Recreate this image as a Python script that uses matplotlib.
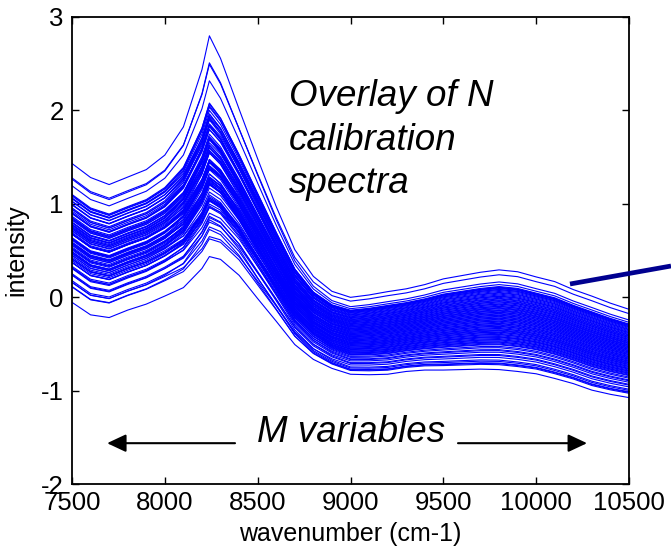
import numpy as np
import matplotlib
matplotlib.use("Agg")
from matplotlib import pyplot as plt
from matplotlib.lines import Line2D

plt.rcParams['font.family'] = ['Liberation Sans', 'DejaVu Sans']
plt.rcParams['axes.unicode_minus'] = False

# wavenumber grid (cm-1)
wavenumber = [7500, 7600, 7700, 7800, 7900, 8000, 8100, 8200, 8240, 8300,
              8400, 8500, 8600, 8700, 8800, 8900, 9000, 9100, 9200, 9300,
              9400, 9500, 9600, 9700, 9800, 9900, 10000, 10100, 10200, 10300,
              10400, 10500]

# mean spectrum of the set
mean_spec = [0.62, 0.48, 0.43, 0.51, 0.58, 0.69, 0.85, 1.17, 1.37, 1.27,
             0.98, 0.64, 0.30, -0.03, -0.24, -0.36, -0.42, -0.41, -0.39, -0.36,
             -0.33, -0.30, -0.28, -0.26, -0.25, -0.27, -0.31, -0.36, -0.43, -0.50,
             -0.56, -0.61]

# spread of the band (overall level)
load_level = [0.33, 0.33, 0.32, 0.32, 0.32, 0.33, 0.37, 0.43, 0.47, 0.43,
              0.37, 0.33, 0.29, 0.27, 0.26, 0.26, 0.27, 0.28, 0.29, 0.29,
              0.30, 0.32, 0.33, 0.34, 0.35, 0.35, 0.34, 0.34, 0.33, 0.33,
              0.32, 0.31]

# extra baseline on the low wavenumber side
load_left = [0.30, 0.29, 0.28, 0.28, 0.29, 0.30, 0.30, 0.30, 0.30, 0.30,
             0.28, 0.25, 0.20, 0.12, 0.06, 0.02, 0.0, 0.0, 0.0, 0.0,
             0.0, 0.0, 0.0, 0.0, 0.0, 0.0, 0.0, 0.0, 0.0, 0.0,
             0.0, 0.0]

# extra height of the 8240 band
load_peak = [0.0, 0.0, 0.0, 0.0, 0.0, 0.05, 0.25, 0.75, 1.0, 0.80,
             0.45, 0.20, 0.05, 0.0, 0.0, 0.0, 0.0, 0.0, 0.0, 0.0,
             0.0, 0.0, 0.0, 0.0, 0.0, 0.0, 0.0, 0.0, 0.0, 0.0,
             0.0, 0.0]

# scores of the N calibration spectra (last ten are the outliers)
score_level = [-1.32, -1.25, -1.21, -1.13, -1.07, -1.04, -0.97, -0.92, -0.89, -0.83,
               -0.79, -0.74, -0.72, -0.69, -0.66, -0.65, -0.62, -0.59, -0.58, -0.55,
               -0.52, -0.50, -0.49, -0.46, -0.43, -0.42, -0.39, -0.36, -0.35, -0.32,
               -0.30, -0.28, -0.25, -0.24, -0.21, -0.18, -0.17, -0.14, -0.12, -0.09,
               -0.08, -0.05, -0.02, -0.01, 0.02, 0.04, 0.07, 0.08, 0.11, 0.13,
               0.16, 0.17, 0.20, 0.22, 0.25, 0.26, 0.29, 0.31, 0.33, 0.36,
               0.38, 0.40, 0.43, 0.44, 0.47, 0.50, 0.51, 0.54, 0.57, 0.58,
               0.61, 0.63, 0.66, 0.68, 0.71, 0.74, 0.75, 0.78, 0.81, 0.84,
               0.86, 0.89, 0.92, 0.95, 0.98, 1.01, 1.04,
               1.55, 1.40, 1.18, 1.10, 1.00, 1.02, 0.95, -1.50, -1.35, -1.30]
score_left = [-0.25, -0.10, 0.05, -0.30, -0.05, 0.10, -0.20, 0.00, 0.15, -0.10,
              0.05, -0.15, 0.10, 0.00, -0.10, 0.15, 0.05, -0.05, 0.20, -0.10,
              0.00, 0.10, -0.15, 0.05, 0.15, -0.05, 0.10, -0.10, 0.05, 0.20,
              -0.05, 0.10, 0.00, 0.15, -0.10, 0.05, 0.20, -0.05, 0.10, 0.00,
              0.15, -0.10, 0.05, 0.20, 0.00, -0.05, 0.10, 0.15, -0.10, 0.05,
              0.20, 0.00, 0.10, -0.05, 0.15, 0.25, 0.05, -0.05, 0.10, 0.20,
              0.00, 0.15, 0.05, 0.25, 0.10, -0.05, 0.20, 0.10, 0.30, 0.05,
              0.15, 0.25, 0.05, 0.20, 0.30, 0.10, 0.25, 0.15, 0.35, 0.20,
              0.30, 0.25, 0.35, 0.30, 0.40, 0.35, 0.40,
              1.00, 0.65, 0.85, 0.70, 0.50, 0.45, 0.40, -0.60, -0.20, -0.10]
score_peak = [-0.05, 0.00, 0.05, -0.10, 0.00, 0.05, -0.05, 0.10, 0.00, -0.05,
              0.05, 0.00, -0.10, 0.05, 0.00, 0.10, -0.05, 0.00, 0.05, -0.05,
              0.00, 0.10, -0.05, 0.00, 0.05, -0.10, 0.00, 0.05, 0.10, -0.05,
              0.00, 0.05, -0.05, 0.10, 0.00, -0.05, 0.05, 0.00, 0.10, -0.05,
              0.00, 0.05, -0.10, 0.05, 0.00, 0.10, -0.05, 0.00, 0.05, 0.10,
              -0.05, 0.00, 0.05, -0.05, 0.10, 0.00, 0.05, -0.05, 0.00, 0.10,
              0.05, 0.00, 0.10, 0.05, 0.00, 0.10, 0.05, 0.00, 0.10, 0.05,
              0.00, 0.10, 0.05, 0.10, 0.00, 0.05, 0.10, 0.05, 0.00, 0.10,
              0.05, 0.10, 0.00, 0.05, 0.10, 0.05, 0.10,
              0.40, 0.27, 0.33, 0.22, 0.08, 0.05, 0.00, -0.05, 0.05, 0.10]

x = np.array(wavenumber)
m = np.array(mean_spec)
p1 = np.array(load_level)
p2 = np.array(load_left)
p3 = np.array(load_peak)

fig = plt.figure(figsize=(6.71, 5.48), dpi=100)
ax = fig.add_axes([72/671, 64/548, 557/671, 467/548])

for t1, t2, t3 in zip(score_level, score_left, score_peak):
    ax.plot(x, m + t1*p1 + t2*p2 + t3*p3, color=(0, 0, 1), lw=0.8)

ax.set_xlim(7500, 10500)
ax.set_ylim(-2, 3)
ax.set_xticks([7500, 8000, 8500, 9000, 9500, 10000, 10500])
ax.set_yticks([-2, -1, 0, 1, 2, 3])
ax.tick_params(direction='in', top=True, right=True, length=4.8, width=1.0,
               labelsize=18.5, pad=5)
ax.tick_params(axis='y', pad=6)
for s in ax.spines.values():
    s.set_linewidth(1.3)
ax.set_xlabel('wavenumber (cm-1)', fontsize=18, labelpad=5)
ax.set_ylabel('intensity', fontsize=18, labelpad=9)

ax.text(8669, 2.045, 'Overlay of N', fontsize=26.5, style='italic', va='baseline')
ax.text(8669, 1.574, 'calibration', fontsize=26.5, style='italic', va='baseline')
ax.text(8669, 1.113, 'spectra', fontsize=26.5, style='italic', va='baseline')
ax.text(8496, -1.552, 'M variables', fontsize=26.5, style='italic', va='baseline')

arrow = dict(arrowstyle='-|>,head_length=0.96,head_width=0.45', color='black',
             lw=1.5, mutation_scale=12, shrinkA=0, shrinkB=0)
ax.annotate('', xy=(7689, -1.563), xytext=(8378, -1.563), arrowprops=arrow)
ax.annotate('', xy=(10274, -1.563), xytext=(9579, -1.563), arrowprops=arrow)

# pointer line leaving the plot on the right
fig.add_artist(Line2D([570/671, 1.0], [1 - 284/548, 1 - 266/548],
                      color='#000090', lw=3.4, solid_capstyle='butt'))

fig.savefig('out.png', dpi=100)
